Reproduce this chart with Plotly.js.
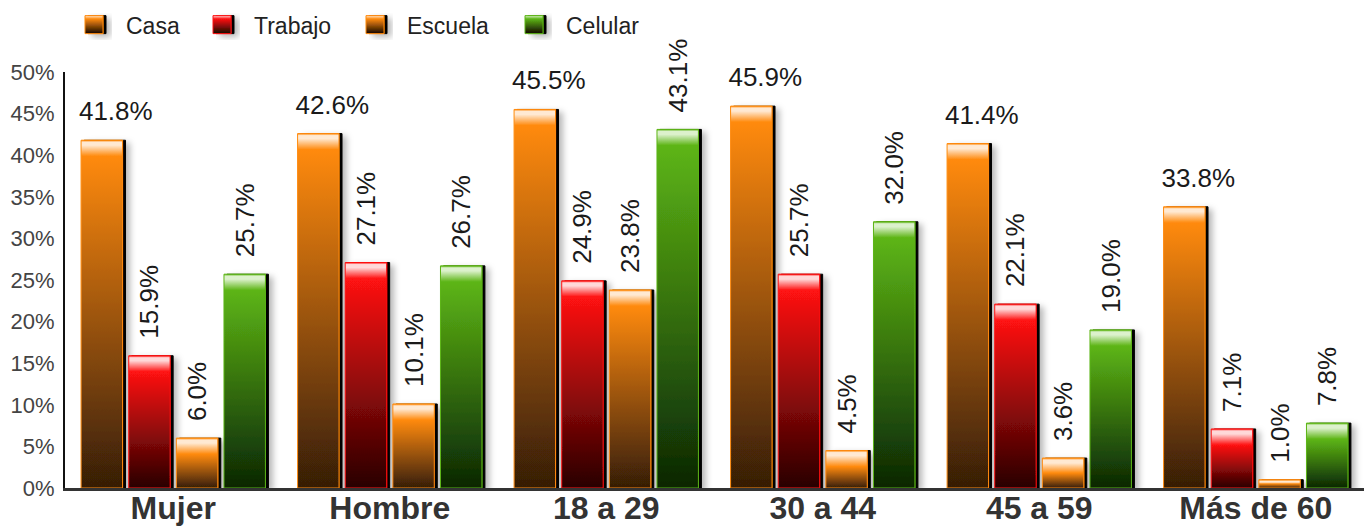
<!DOCTYPE html>
<html><head><meta charset="utf-8">
<script src="https://cdn.plot.ly/plotly-3.0.1.min.js"></script>
<style>html,body{margin:0;padding:0;background:#fff}#chart{width:1364px;height:529px}</style>
</head><body><div id="chart"></div>
<script>
// ---- data ----
const categories = ['Mujer', 'Hombre', '18 a 29', '30 a 44', '45 a 59', 'Más de 60'];
const seriesNames = ['Casa', 'Trabajo', 'Escuela', 'Celular'];
const casa    = [41.8, 42.6, 45.5, 45.9, 41.4, 33.8];
const trabajo = [15.9, 27.1, 24.9, 25.7, 22.1, 7.1];
const escuela = [6.0, 10.1, 23.8, 4.5, 3.6, 1.0];
const celular = [25.7, 26.7, 43.1, 32.0, 19.0, 7.8];
const yTickVals = [0, 5, 10, 15, 20, 25, 30, 35, 40, 45, 50];
const yTickText = ['0%', '5%', '10%', '15%', '20%', '25%', '30%', '35%', '40%', '45%', '50%'];

// ---- styles ----
const FONT = 'Liberation Sans, Arial, Helvetica, sans-serif';
const palette = [
  {base: '#ff8a0d', light: '#ffe9d2', dark: '#351d06'},
  {base: '#ff1212', light: '#ffd8d8', dark: '#280000'},
  {base: '#ff8a0d', light: '#ffe9d2', dark: '#351d06'},
  {base: '#5db515', light: '#dcf1cc', dark: '#0a2604'}
];
const allSeries = [casa, trabajo, escuela, celular];

const traces = allSeries.map((vals, i) => ({
  type: 'bar',
  name: seriesNames[i],
  x: categories,
  y: vals,
  text: vals.map(v => v.toFixed(1) + '%'),
  textposition: 'outside',
  textangle: i === 0 ? 0 : -90,
  constraintext: 'none',
  cliponaxis: false,
  textfont: {family: FONT, size: 26, color: '#1a1a1a'},
  marker: {color: palette[i].base, line: {color: palette[i].base, width: 1}},
  hoverinfo: 'skip'
}));

const layout = {
  width: 1364, height: 529,
  margin: {l: 65, r: 0, t: 72, b: 41, pad: 0},
  paper_bgcolor: '#fff', plot_bgcolor: '#fff',
  bargap: 0.12, bargroupgap: 0.13,
  font: {family: FONT},
  showlegend: true,
  legend: {
    orientation: 'h', xref: 'container', yref: 'container',
    x: 0.05, y: 0.994, xanchor: 'left', yanchor: 'top',
    font: {family: FONT, size: 23, color: '#222'},
    bgcolor: 'rgba(0,0,0,0)', traceorder: 'normal'
  },
  xaxis: {
    type: 'category', showline: true, linecolor: '#333', linewidth: 3,
    ticks: '', showgrid: false, zeroline: false, fixedrange: true,
    tickfont: {family: FONT, size: 32, color: '#333', weight: 'bold'},
    ticklabelstandoff: -10
  },
  yaxis: {
    range: [0, 50], tickvals: yTickVals, ticktext: yTickText,
    showline: true, linecolor: '#111', linewidth: 2,
    showgrid: false, zeroline: false, ticks: '', fixedrange: true,
    tickfont: {family: FONT, size: 22, color: '#444'},
    ticklabelstandoff: 4
  }
};

function enhance(gd) {
  const NS = 'http://www.w3.org/2000/svg';
  const svg = gd.querySelector('svg.main-svg');
  let defs = svg.querySelector('defs');
  if (!defs) { defs = document.createElementNS(NS, 'defs'); svg.insertBefore(defs, svg.firstChild); }

  const filt = document.createElementNS(NS, 'filter');
  filt.setAttribute('id', 'barShadow');
  filt.setAttribute('x', '-0.2'); filt.setAttribute('y', '-0.3');
  filt.setAttribute('width', '1.7'); filt.setAttribute('height', '1.6');
  filt.innerHTML =
    '<feGaussianBlur in="SourceAlpha" stdDeviation="3" result="blur"/>' +
    '<feOffset in="blur" dx="7" dy="3" result="offBlur"/>' +
    '<feFlood flood-color="#000" flood-opacity="0.28" result="c1"/>' +
    '<feComposite in="c1" in2="offBlur" operator="in" result="shadow"/>' +
    '<feOffset in="SourceAlpha" dx="3" dy="0" result="edge"/>' +
    '<feMerge><feMergeNode in="shadow"/><feMergeNode in="edge"/><feMergeNode in="SourceGraphic"/></feMerge>';
  defs.appendChild(filt);

  function addStop(g, off, col) {
    const s = document.createElementNS(NS, 'stop');
    s.setAttribute('offset', off); s.setAttribute('stop-color', col);
    g.appendChild(s);
  }

  // bars
  gd.querySelectorAll('.barlayer .trace').forEach((tr, t) => {
    const p = palette[t % palette.length];
    tr.querySelectorAll('.point').forEach((pt, k) => {
      const path = pt.querySelector('path');
      if (path) {
        const bb = path.getBBox();
        const H = Math.max(bb.height, 1);
        const g = document.createElementNS(NS, 'linearGradient');
        const id = 'grad_' + t + '_' + k;
        g.setAttribute('id', id);
        g.setAttribute('gradientUnits', 'userSpaceOnUse');
        g.setAttribute('x1', 0); g.setAttribute('x2', 0);
        g.setAttribute('y1', bb.y); g.setAttribute('y2', bb.y + H);
        addStop(g, 0, p.base);
        addStop(g, Math.min(2 / H, 0.2), p.light);
        addStop(g, Math.min(5 / H, 0.3), p.light);
        addStop(g, Math.min(16 / H, 0.5), p.base);
        addStop(g, 1, p.dark);
        defs.appendChild(g);
        path.style.fill = 'url(#' + id + ')';
        path.setAttribute('filter', 'url(#barShadow)');
      }
      const txt = pt.querySelector('text');
      if (txt) {
        const tf = txt.getAttribute('transform') || '';
        const sh = t === 0 ? 'translate(14,-11) ' : 'translate(0,-14) ';
        txt.setAttribute('transform', sh + tf);
      }
    });
  });

  // legend
  gd.querySelectorAll('.legend [clip-path]').forEach(el => el.removeAttribute('clip-path'));
  const targets = [126, 254, 407, 566];
  gd.querySelectorAll('.legend .traces').forEach((it, i) => {
    const p = palette[i % palette.length];
    const g = document.createElementNS(NS, 'linearGradient');
    g.setAttribute('id', 'leg_' + i);
    g.setAttribute('x1', 0); g.setAttribute('x2', 0); g.setAttribute('y1', 0); g.setAttribute('y2', 1);
    addStop(g, 0, p.light); addStop(g, 0.18, p.base); addStop(g, 1, '#120600');
    defs.appendChild(g);
    it.querySelectorAll('.legendpoints path').forEach(path => {
      path.setAttribute('d', 'M9,9H-9V-9H9Z');
      path.setAttribute('transform', 'translate(8,0)');
      path.style.fill = 'url(#leg_' + i + ')';
      path.style.stroke = p.base; path.style.strokeWidth = '1px';
      path.setAttribute('filter', 'url(#barShadow)');
    });
    const txt = it.querySelector('text');
    if (txt && targets[i] !== undefined) {
      const left = txt.getBoundingClientRect().left - gd.getBoundingClientRect().left;
      const dx = targets[i] - left;
      const tf = it.getAttribute('transform') || 'translate(0,0)';
      const m = tf.match(/translate\(\s*([-\d.e]+)[ ,]+([-\d.e]+)\s*\)/);
      if (m) it.setAttribute('transform', 'translate(' + (parseFloat(m[1]) + dx) + ',' + m[2] + ')');
    }
  });
}

Plotly.newPlot('chart', traces, layout, {displayModeBar: false, staticPlot: true})
  .then(gd => { try { enhance(gd); } catch (e) { console.error(e); } });
</script>
</body></html>
